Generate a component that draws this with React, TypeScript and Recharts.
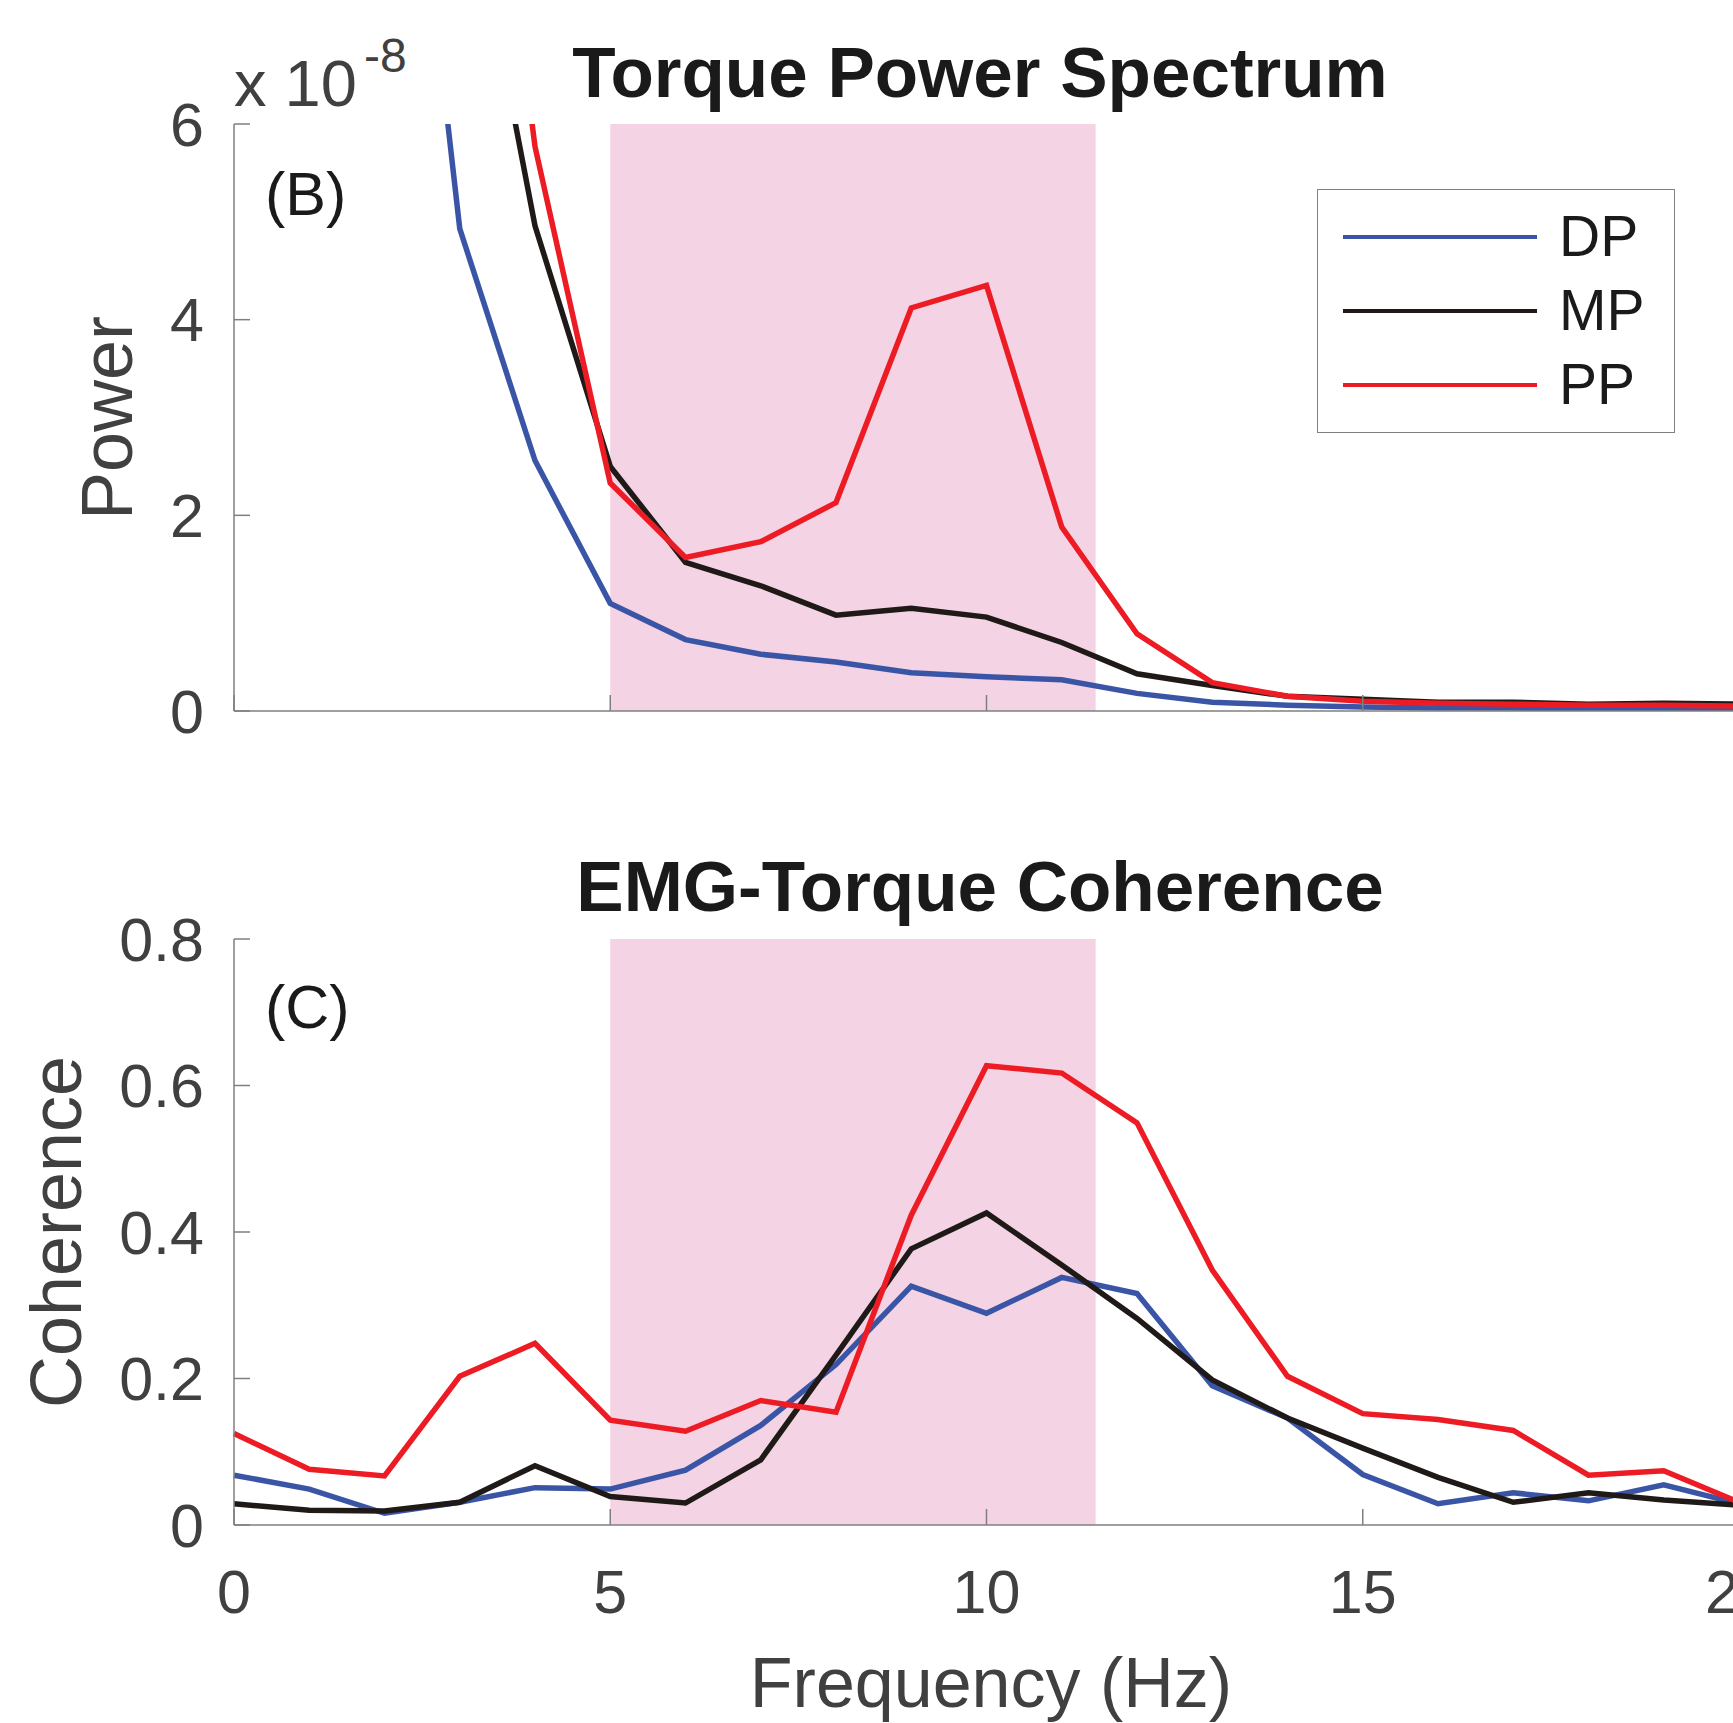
import { LineChart, Line, XAxis, YAxis, ReferenceArea, Legend } from 'recharts';

// frequency bins (Hz)
const freqHz = [0, 1, 2, 3, 4, 5, 6, 7, 8, 9, 10, 11, 12, 13, 14, 15, 16, 17, 18, 19, 20];

// torque power, in units of 1e-8 (first bins run off the top of the axis)
const powerDP = [30, 20, 11.7, 4.93, 2.56, 1.1, 0.73, 0.58, 0.5, 0.39, 0.35, 0.32, 0.18, 0.09, 0.06, 0.04, 0.03, 0.03, 0.02, 0.02, 0.02];
const powerMP = [40, 25, 14, 8.96, 4.96, 2.5, 1.52, 1.28, 0.98, 1.05, 0.96, 0.7, 0.38, 0.26, 0.15, 0.12, 0.09, 0.09, 0.07, 0.08, 0.07];
const powerPP = [45, 30, 18, 11.8, 5.77, 2.33, 1.57, 1.73, 2.13, 4.12, 4.35, 1.88, 0.79, 0.29, 0.15, 0.1, 0.08, 0.07, 0.06, 0.06, 0.05];

// EMG-torque coherence
const cohDP = [0.068, 0.049, 0.016, 0.031, 0.051, 0.049, 0.075, 0.136, 0.219, 0.326, 0.289, 0.338, 0.316, 0.19, 0.146, 0.069, 0.029, 0.044, 0.033, 0.055, 0.029];
const cohMP = [0.029, 0.02, 0.019, 0.031, 0.081, 0.039, 0.03, 0.089, 0.232, 0.377, 0.426, 0.355, 0.282, 0.198, 0.146, 0.105, 0.065, 0.031, 0.044, 0.034, 0.027];
const cohPP = [0.125, 0.076, 0.067, 0.203, 0.248, 0.143, 0.128, 0.17, 0.154, 0.423, 0.627, 0.617, 0.549, 0.348, 0.203, 0.152, 0.144, 0.129, 0.068, 0.074, 0.031];

const xTicks = [0, 5, 10, 15, 20];
const powerTicks = [0, 2, 4, 6];
const cohTicks = [0, 0.2, 0.4, 0.6, 0.8];
const bandHz = [5, 11.45];

const series = [
  { key: 'DP', color: '#3a55a5' },
  { key: 'MP', color: '#1f1a17' },
  { key: 'PP', color: '#ed1c24' },
];

const powerData = freqHz.map((f, i) => ({ f, DP: powerDP[i], MP: powerMP[i], PP: powerPP[i] }));
const cohData = freqHz.map((f, i) => ({ f, DP: cohDP[i], MP: cohMP[i], PP: cohPP[i] }));

const FONT = '"Liberation Sans", Arial, Helvetica, sans-serif';
const AXIS = '#7f7f7f';
const TICK_TEXT = { fill: '#404040', fontSize: 61, fontFamily: FONT };
const SHADE = '#f3d3e4';
const LINE_W = 5.5;

// plot runs past the right edge of the page, like the cropped original
const CHART_W = 1800;
const RIGHT_M = 61;

function LegendBox({ payload }: { payload?: any[] }) {
  return (
    <div
      style={{
        position: 'relative',
        width: 358,
        height: 244,
        boxSizing: 'border-box',
        border: '1.5px solid #7f7f7f',
        background: '#fff',
        fontFamily: FONT,
      }}
    >
      {(payload || []).map((p, i) => (
        <div key={p.value} style={{ position: 'absolute', left: 0, top: 47 + i * 74, width: '100%' }}>
          <div style={{ position: 'absolute', left: 25, top: -2, width: 194, height: 4, background: p.color }} />
          <div style={{ position: 'absolute', left: 241, top: -33, fontSize: 57, lineHeight: '64px', color: '#1a1a1a' }}>
            {p.value}
          </div>
        </div>
      ))}
    </div>
  );
}

const noLabel = () => <g />;

export default function App() {
  return (
    <div style={{ position: 'absolute', left: 0, top: 0, width: 1733, height: 1723, overflow: 'hidden', background: '#fff' }}>
      <div style={{ position: 'absolute', left: 0, top: 0 }}>
        <LineChart width={CHART_W} height={760} data={powerData} margin={{ top: 124, right: RIGHT_M, bottom: 0, left: 0 }}>
          <XAxis
            dataKey="f"
            type="number"
            domain={[0, 20]}
            ticks={xTicks}
            interval={0}
            height={49}
            stroke={AXIS}
            strokeWidth={1.5}
            tickSize={-16}
            tick={noLabel}
          />
          <YAxis
            type="number"
            domain={[0, 6]}
            ticks={powerTicks}
            allowDataOverflow
            width={234}
            stroke={AXIS}
            strokeWidth={1.5}
            tickSize={-16}
            tickMargin={46}
            tick={TICK_TEXT}
          />
          <ReferenceArea x1={bandHz[0]} x2={bandHz[1]} fill={SHADE} fillOpacity={1} stroke="none" />
          {series.map((s) => (
            <Line key={s.key} type="linear" dataKey={s.key} name={s.key} stroke={s.color} strokeWidth={LINE_W} dot={false} isAnimationActive={false} />
          ))}
          <Legend
            layout="vertical"
            align="center"
            verticalAlign="middle"
            wrapperStyle={{ left: 1317, top: 189, width: 358, height: 244 }}
            content={(props: any) => <LegendBox payload={props.payload} />}
          />
        </LineChart>
      </div>

      <div style={{ position: 'absolute', left: 0, top: 800 }}>
        <LineChart width={CHART_W} height={923} data={cohData} margin={{ top: 139, right: RIGHT_M, bottom: 0, left: 0 }}>
          <XAxis
            dataKey="f"
            type="number"
            domain={[0, 20]}
            ticks={xTicks}
            interval={0}
            height={198}
            stroke={AXIS}
            strokeWidth={1.5}
            tickSize={-16}
            tickMargin={61}
            tick={TICK_TEXT}
          />
          <YAxis
            type="number"
            domain={[0, 0.8]}
            ticks={cohTicks}
            allowDataOverflow
            width={234}
            stroke={AXIS}
            strokeWidth={1.5}
            tickSize={-16}
            tickMargin={46}
            tick={TICK_TEXT}
          />
          <ReferenceArea x1={bandHz[0]} x2={bandHz[1]} fill={SHADE} fillOpacity={1} stroke="none" />
          {series.map((s) => (
            <Line key={s.key} type="linear" dataKey={s.key} name={s.key} stroke={s.color} strokeWidth={LINE_W} dot={false} isAnimationActive={false} />
          ))}
        </LineChart>
      </div>

      {/* titles, axis labels and panel letters */}
      <svg width={1733} height={1723} style={{ position: 'absolute', left: 0, top: 0, pointerEvents: 'none' }} fontFamily={FONT}>
        <text x={980} y={97} textAnchor="middle" fontSize={71} fontWeight="bold" fill="#1a1a1a">
          Torque Power Spectrum
        </text>
        <text x={980} y={911} textAnchor="middle" fontSize={71} fontWeight="bold" fill="#1a1a1a">
          EMG-Torque Coherence
        </text>
        <text x={234} y={106} fontSize={65} fill="#404040">
          x 10
        </text>
        <text x={364} y={72} fontSize={48} fill="#404040">
          -8
        </text>
        <text x={265} y={215} fontSize={61} fill="#1a1a1a">
          (B)
        </text>
        <text x={265} y={1028} fontSize={61} fill="#1a1a1a">
          (C)
        </text>
        <text x={132} y={418} textAnchor="middle" fontSize={72} fill="#404040" transform="rotate(-90 132 418)">
          Power
        </text>
        <text x={81} y={1232} textAnchor="middle" fontSize={72} fill="#404040" transform="rotate(-90 81 1232)">
          Coherence
        </text>
        <text x={991} y={1707} textAnchor="middle" fontSize={70} fill="#404040">
          Frequency (Hz)
        </text>
      </svg>
    </div>
  );
}
